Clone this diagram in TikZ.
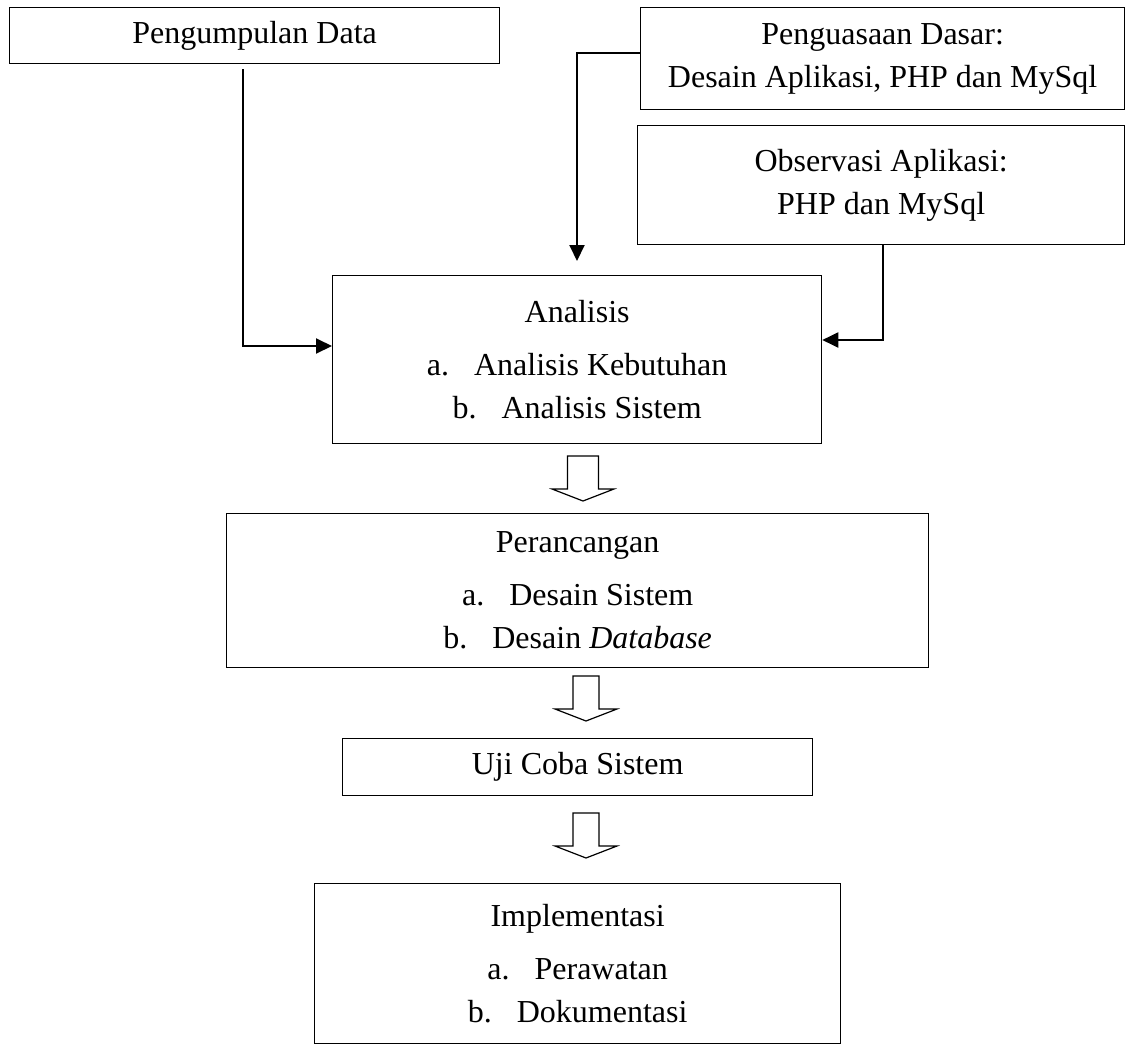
\documentclass[tikz,border=0pt]{standalone}
\usepackage{fontspec}
\setmainfont{Liberation Serif}
\usetikzlibrary{arrows.meta}
\newcommand{\blkarrow}[3]{%
  \draw[blk] (#1-#3,#2) -- (#1+#3,#2) -- (#1+#3,#2+33) -- (#1+31,#2+33) -- (#1,#2+45) -- (#1-31,#2+33) -- (#1-#3,#2+33) -- cycle;}
\begin{document}
\begin{tikzpicture}[x=1pt,y=-1pt,
  box/.style={draw, line width=1.3pt, inner sep=0pt, align=center, anchor=north west,
    font=\fontsize{32}{43}\selectfont},
  conn/.style={line width=2pt, -{Triangle[length=16pt,width=15pt]}},
  blk/.style={draw, line width=1.2pt, fill=white, line join=miter}
]
\useasboundingbox (0,0) rectangle (1125,1044);

\node[box, minimum width=490, minimum height=56] (pd) at (9,7) {Pengumpulan Data};
\node[box, minimum width=484, minimum height=102] (pg) at (640,7)
  {Penguasaan Dasar:\\ Desain Aplikasi, PHP dan MySql};
\node[box, minimum width=487, minimum height=119] (ob) at (637,125)
  {Observasi Aplikasi:\\ PHP dan MySql};
\node[box, minimum width=489, minimum height=168] (an) at (332,275)
  {Analisis\\[10pt] a.\hspace{25pt}Analisis Kebutuhan\\ b.\hspace{25pt}Analisis Sistem};
\node[box, minimum width=702, minimum height=154] (pr) at (226,513)
  {Perancangan\\[10pt] a.\hspace{25pt}Desain Sistem\\ b.\hspace{25pt}Desain \textit{Database}};
\node[box, minimum width=470, minimum height=57] (uj) at (342,738) {Uji Coba Sistem};
\node[box, minimum width=526, minimum height=160] (im) at (314,883)
  {Implementasi\\[10pt] a.\hspace{25pt}Perawatan\\ b.\hspace{25pt}Dokumentasi};

\coordinate (pdout) at (243,69);
\coordinate (pdturn) at (243,346);
\coordinate (pgturn) at (577,53);
\coordinate (pgend) at (577,261);
\coordinate (obout) at (883,244);
\coordinate (obturn) at (883,340);

\draw[conn] (pdout) -- (pdturn) -- (pdturn -| an.west);
\draw[conn] (pgturn -| pg.west) -- (pgturn) -- (pgend);
\draw[conn] (obout) -- (obturn) -- (obturn -| an.east);

\blkarrow{583}{456}{15.5}
\blkarrow{586}{676}{13}
\blkarrow{586}{813}{13}
\end{tikzpicture}
\end{document}
